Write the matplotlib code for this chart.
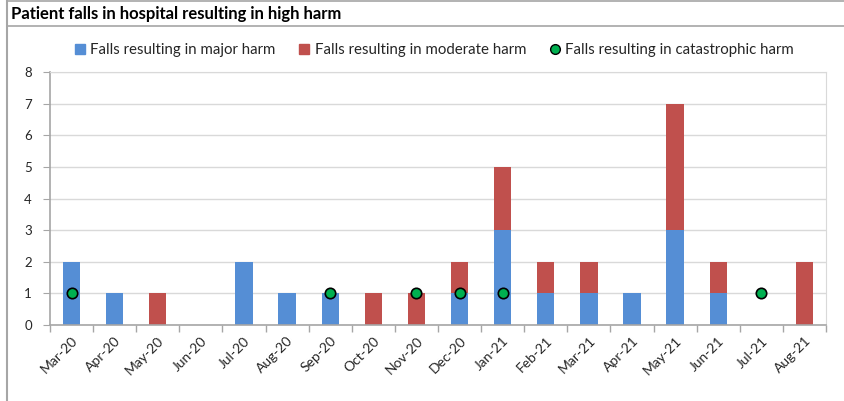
import numpy as np
import matplotlib
matplotlib.use("Agg")
import matplotlib.pyplot as plt
from matplotlib.lines import Line2D

plt.rcParams['font.family'] = ['Lato', 'DejaVu Sans']

months = ["Mar-20", "Apr-20", "May-20", "Jun-20", "Jul-20", "Aug-20", "Sep-20", "Oct-20",
          "Nov-20", "Dec-20", "Jan-21", "Feb-21", "Mar-21", "Apr-21", "May-21", "Jun-21",
          "Jul-21", "Aug-21"]
major = [2, 1, 0, 0, 2, 1, 1, 0, 0, 1, 3, 1, 1, 1, 3, 1, 0, 0]
moderate = [0, 0, 1, 0, 0, 0, 0, 1, 1, 1, 2, 1, 1, 0, 4, 1, 0, 2]
catastrophic = [1, None, None, None, None, None, 1, None, 1, 1, 1, None, None, None, None, None, 1, None]

blue = "#558ED5"
red = "#C0504D"
green = "#00B050"
grid_col = "#D9D9D9"
axis_col = "#A6A6A6"

fig = plt.figure(figsize=(8.44, 4.01), dpi=100)
W, H = 844, 401

# frame lines of the chart panel
fig.add_artist(Line2D([7 / W, 7 / W], [0, 1], color="#A6A6A6", lw=1.5))
fig.add_artist(Line2D([7 / W, 1], [1 - 26 / H, 1 - 26 / H], color="#A6A6A6", lw=1.2))
fig.add_artist(Line2D([7 / W, 1], [1 - 0.8 / H, 1 - 0.8 / H], color="#A6A6A6", lw=1.2))
fig.text(11 / W, 1 - 14 / H, "Patient falls in hospital resulting in high harm",
         fontsize=12, fontweight="bold", va="center", ha="left", color="black")

left, right, top, bottom = 50, 826, 72, 325
ax = fig.add_axes([left / W, 1 - bottom / H, (right - left) / W, (bottom - top) / H])

x = np.arange(len(months))
ax.bar(x, major, width=0.4, color=blue, zorder=2, label="Falls resulting in major harm")
ax.bar(x, moderate, width=0.4, bottom=major, color=red, zorder=2,
       label="Falls resulting in moderate harm")
cat = np.array([np.nan if v is None else v for v in catastrophic], dtype=float)
ax.plot(x, cat, linestyle="none", marker="o", markersize=7.5, markerfacecolor=green,
        markeredgecolor="black", markeredgewidth=1.2, zorder=3,
        label="Falls resulting in catastrophic harm")

ax.set_xlim(-0.5, len(months) - 0.5)
ax.set_ylim(0, 8)
ax.set_yticks(range(0, 9))
ax.yaxis.grid(True, color=grid_col, lw=1, zorder=0)
ax.set_axisbelow(True)

ax.set_xticks(x)
ax.set_xticklabels(months, rotation=45, ha="right", rotation_mode="anchor", fontsize=10,
                   color="#262626")
ax.tick_params(axis="x", length=0, pad=7)
ax.set_xticks(np.arange(-0.5, len(months)), minor=True)
ax.tick_params(axis="x", which="minor", length=5, color=axis_col, width=1)
ax.tick_params(axis="y", labelsize=9.5, labelcolor="#262626", length=5, color=axis_col, pad=8)

for side in ["top", "right"]:
    ax.spines[side].set_color(grid_col)
for side in ["left", "bottom"]:
    ax.spines[side].set_color(axis_col)
    ax.spines[side].set_linewidth(1.2)

handles = [
    Line2D([], [], linestyle="none", marker="s", markersize=7, color=blue),
    Line2D([], [], linestyle="none", marker="s", markersize=7, color=red),
    Line2D([], [], linestyle="none", marker="o", markersize=7, markerfacecolor=green,
           markeredgecolor="black", markeredgewidth=1),
]
labels = ["Falls resulting in major harm", "Falls resulting in moderate harm",
          "Falls resulting in catastrophic harm"]
fig.legend(handles, labels, loc="center", bbox_to_anchor=(434 / W, 1 - 50 / H), ncol=3,
           frameon=False, fontsize=10.8, handlelength=0.8, handletextpad=0.3,
           columnspacing=1.5, labelcolor="#262626")

fig.savefig("out.png", dpi=100)
